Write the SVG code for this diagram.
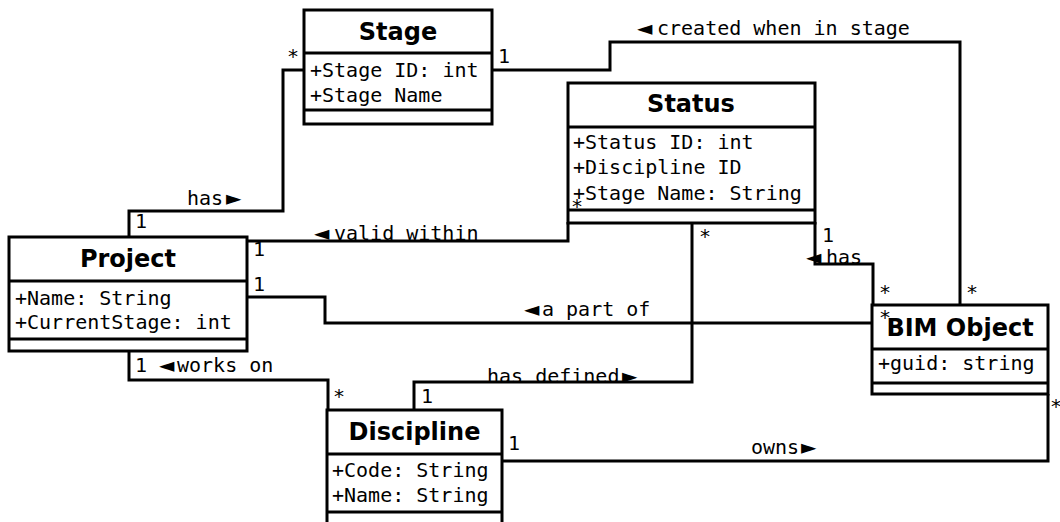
<svg xmlns="http://www.w3.org/2000/svg" width="1060" height="522" viewBox="0 0 1060 522">
  <style>
    .box { fill: #fff; stroke: #000; stroke-width: 3; }
    .sep { stroke: #000; stroke-width: 3; }
    .edge { fill: none; stroke: #000; stroke-width: 3; }
    .title { font-family: "DejaVu Sans", "Liberation Sans", sans-serif; font-weight: bold; font-size: 24px; text-anchor: middle; fill: #000; }
    .attr { font-family: "DejaVu Sans Mono", "Liberation Mono", monospace; font-size: 20px; fill: #000; }
    .lbl { font-family: "DejaVu Sans Mono", "Liberation Mono", monospace; font-size: 20px; fill: #000; }
    .tri { font-family: "DejaVu Sans", "Liberation Sans", sans-serif; }
  </style>
  <rect width="1060" height="522" fill="#fff"/>

  <!-- associations -->
  <g id="connectors">
    <!-- Project has Stage -->
    <polyline class="edge" points="304,70 283,70 283,211 129,211 129,237"/>
    <!-- BIM Object created when in Stage -->
    <polyline class="edge" points="492,70 610,70 610,42 960,42 960,305"/>
    <!-- Status valid within Project -->
    <polyline class="edge" points="568,222 568,241 247,241"/>
    <!-- BIM Object a part of Project -->
    <polyline class="edge" points="247,297 325,297 325,323 872,323"/>
    <!-- Discipline works on Project -->
    <polyline class="edge" points="129,351 129,380 328,380 328,410"/>
    <!-- Discipline has defined Status -->
    <polyline class="edge" points="414,410 414,382 692,382 692,222"/>
    <!-- Status has BIM Object -->
    <polyline class="edge" points="815,222 815,264 873,264 873,305"/>
    <!-- Discipline owns BIM Object -->
    <polyline class="edge" points="502,461 1048,461 1048,394"/>
  </g>

  <g id="stage">
    <rect class="box" x="304" y="10" width="188" height="114"/>
    <line class="sep" x1="304" y1="53" x2="492" y2="53"/>
    <line class="sep" x1="304" y1="110" x2="492" y2="110"/>
    <text class="title" x="398" y="40">Stage</text>
    <text class="attr" x="310" y="77">+Stage ID: int</text>
    <text class="attr" x="310" y="102">+Stage Name</text>
  </g>

  <g id="status">
    <rect class="box" x="568" y="83" width="247" height="140"/>
    <line class="sep" x1="568" y1="127" x2="815" y2="127"/>
    <line class="sep" x1="568" y1="210" x2="815" y2="210"/>
    <text class="title" x="691" y="112">Status</text>
    <text class="attr" x="573" y="149">+Status ID: int</text>
    <text class="attr" x="573" y="174">+Discipline ID</text>
    <text class="attr" x="573" y="200">+Stage Name: String</text>
  </g>

  <g id="project">
    <rect class="box" x="9" y="237" width="238" height="114"/>
    <line class="sep" x1="9" y1="281" x2="247" y2="281"/>
    <line class="sep" x1="9" y1="339" x2="247" y2="339"/>
    <text class="title" x="128" y="267">Project</text>
    <text class="attr" x="15" y="305">+Name: String</text>
    <text class="attr" x="15" y="329">+CurrentStage: int</text>
  </g>

  <g id="discipline">
    <rect class="box" x="327" y="410" width="175" height="130"/>
    <line class="sep" x1="327" y1="454" x2="502" y2="454"/>
    <line class="sep" x1="327" y1="512" x2="502" y2="512"/>
    <text class="title" x="414.5" y="440">Discipline</text>
    <text class="attr" x="332" y="477">+Code: String</text>
    <text class="attr" x="332" y="502">+Name: String</text>
  </g>

  <g id="bim-object">
    <rect class="box" x="872" y="305" width="176" height="89"/>
    <line class="sep" x1="872" y1="349" x2="1048" y2="349"/>
    <line class="sep" x1="872" y1="383" x2="1048" y2="383"/>
    <text class="title" x="960" y="336">BIM Object</text>
    <text class="attr" x="878" y="370">+guid: string</text>
  </g>

  <!-- role names and multiplicities -->
  <g id="labels">
    <text class="lbl" x="187" y="205">has<tspan class="tri" x="226">►</tspan></text>
    <text class="lbl" x="287" y="63">*</text>
    <text class="lbl" x="135" y="228">1</text>

    <text class="lbl" x="637" y="35"><tspan class="tri">◄</tspan><tspan x="657">created when in stage</tspan></text>
    <text class="lbl" x="498" y="63">1</text>
    <text class="lbl" x="966" y="299">*</text>

    <text class="lbl" x="314" y="240"><tspan class="tri">◄</tspan><tspan x="334">valid within</tspan></text>
    <text class="lbl" x="571" y="213">*</text>
    <text class="lbl" x="253" y="256">1</text>

    <text class="lbl" x="524" y="316"><tspan class="tri">◄</tspan><tspan x="542">a part of</tspan></text>
    <text class="lbl" x="253" y="291">1</text>
    <text class="lbl" x="879" y="324">*</text>

    <text class="lbl" x="159" y="372"><tspan class="tri">◄</tspan><tspan x="177">works on</tspan></text>
    <text class="lbl" x="135" y="372">1</text>
    <text class="lbl" x="333" y="403">*</text>

    <text class="lbl" x="487" y="383">has defined<tspan class="tri" x="622">►</tspan></text>
    <text class="lbl" x="421" y="403">1</text>
    <text class="lbl" x="699" y="243">*</text>

    <text class="lbl" x="806" y="264"><tspan class="tri">◄</tspan><tspan x="826">has</tspan></text>
    <text class="lbl" x="822" y="242">1</text>
    <text class="lbl" x="879" y="299">*</text>

    <text class="lbl" x="751" y="454">owns<tspan class="tri" x="801">►</tspan></text>
    <text class="lbl" x="508" y="450">1</text>
    <text class="lbl" x="1050" y="413">*</text>
  </g>
</svg>
